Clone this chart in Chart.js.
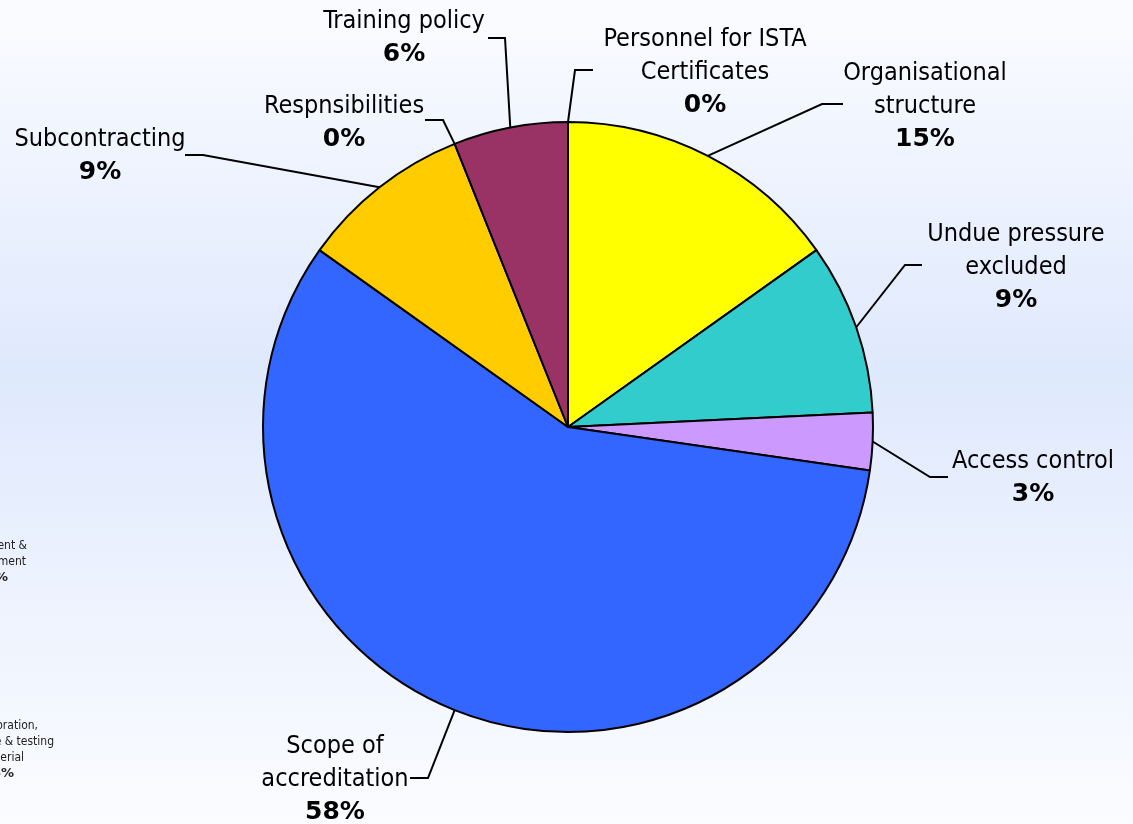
<!DOCTYPE html>
<html lang="en">
  <head>
    <meta charset="UTF-8" />
    <title>Findings by clause</title>
    <script src="https://cdn.jsdelivr.net/npm/chart.js"></script>
    <style>
      html, body { margin: 0; padding: 0; overflow: hidden; }
      #wrap { width: 1133px; height: 824px; }
    </style>
  </head>
  <body>
    <div id="wrap"><canvas id="pieChart"></canvas></div>

<script>
  // data
  const categories = [
    "Personnel for ISTA Certificates",
    "Organisational structure",
    "Undue pressure excluded",
    "Access control",
    "Scope of accreditation",
    "Subcontracting",
    "Respnsibilities",
    "Training policy",
  ];
  const findings = [0, 5, 3, 1, 19, 3, 0, 2];
  const sliceColors = ["#FFFF00", "#FFFF00", "#33CCCC", "#CC99FF", "#3366FF", "#FFCC00", "#FFCC00", "#993366"];

  // label text split into lines, and where each label sits
  const labelLines = [
    ["Personnel for ISTA", "Certificates"],
    ["Organisational", "structure"],
    ["Undue pressure", "excluded"],
    ["Access control"],
    ["Scope of", "accreditation"],
    ["Subcontracting"],
    ["Respnsibilities"],
    ["Training policy"],
  ];
  // [text centre x, first line y, elbow x, elbow y, line end x]
  const labelPos = [
    [705, 39, 575, 70, 593],
    [925, 73, 822, 104, 843],
    [1016, 234, 905, 265, 922],
    [1033, 461, 930, 477, 948],
    [335, 746, 428, 778, 410],
    [100, 139, 203, 155, 185],
    [344, 106, 443, 120, 425],
    [404, 21, 505, 38, 488],
  ];

  const FONT = '"DejaVu Sans Condensed", "Liberation Sans", sans-serif';
  const BOLD_FONT = '"DejaVu Sans", "Liberation Sans", sans-serif';

  const bgPlugin = {
    id: "bg",
    beforeDraw(chart) {
      const ctx = chart.ctx;
      const g = ctx.createLinearGradient(0, 0, 0, chart.height);
      g.addColorStop(0, "#fbfcff");
      g.addColorStop(0.45, "#dfe9fd");
      g.addColorStop(1, "#fbfcff");
      ctx.save();
      ctx.fillStyle = g;
      ctx.fillRect(0, 0, chart.width, chart.height);

      // cut-off labels of the neighbouring chart on the left
      ctx.fillStyle = "#222";
      ctx.font = "12px " + FONT;
      ctx.textAlign = "right";
      ctx.textBaseline = "middle";
      ctx.fillText("Equipment &", 27, 546);
      ctx.fillText("environment", 26, 562);
      ctx.fillText("Calibration,", 38, 726);
      ctx.fillText("reference & testing", 54, 742);
      ctx.fillText("material", 24, 758);
      ctx.font = "bold 13px " + BOLD_FONT;
      ctx.fillText("9%", 8, 578);
      ctx.fillText("6%", 14, 774);
      ctx.restore();
    },
  };

  const labelPlugin = {
    id: "pieLabels",
    afterDatasetsDraw(chart) {
      const ctx = chart.ctx;
      const meta = chart.getDatasetMeta(0);
      const total = findings.reduce((a, b) => a + b, 0);
      ctx.save();
      meta.data.forEach((arc, i) => {
        const p = arc.getProps(["x", "y", "startAngle", "endAngle", "outerRadius"], true);
        const mid = (p.startAngle + p.endAngle) / 2;
        const ax = p.x + Math.cos(mid) * p.outerRadius;
        const ay = p.y + Math.sin(mid) * p.outerRadius;
        const [cx, cy, ex, ey, tx] = labelPos[i];

        ctx.strokeStyle = "#000";
        ctx.lineWidth = 2;
        ctx.beginPath();
        ctx.moveTo(ax, ay);
        ctx.lineTo(ex, ey);
        ctx.lineTo(tx, ey);
        ctx.stroke();

        ctx.fillStyle = "#000";
        ctx.textAlign = "center";
        ctx.textBaseline = "middle";
        ctx.font = "25px " + FONT;
        const lines = labelLines[i];
        lines.forEach((t, k) => ctx.fillText(t, cx, cy + k * 33));
        ctx.font = "bold 25px " + BOLD_FONT;
        ctx.fillText(Math.round((findings[i] / total) * 100) + "%", cx, cy + lines.length * 33);
      });
      ctx.restore();
    },
  };

  const ctxPie = document.getElementById("pieChart").getContext("2d");
  const pieChart = new Chart(ctxPie, {
    type: "pie",
    data: {
      labels: categories,
      datasets: [
        {
          data: findings,
          backgroundColor: sliceColors,
          borderColor: "#000",
          borderWidth: 2,
        },
      ],
    },
    options: {
      responsive: true,
      maintainAspectRatio: false,
      animation: false,
      radius: 305,
      layout: { padding: { left: 263, right: 260, top: 122, bottom: 92 } },
      plugins: {
        legend: { display: false },
        tooltip: { enabled: false },
      },
    },
    plugins: [bgPlugin, labelPlugin],
  });
</script>
  </body>
</html>
